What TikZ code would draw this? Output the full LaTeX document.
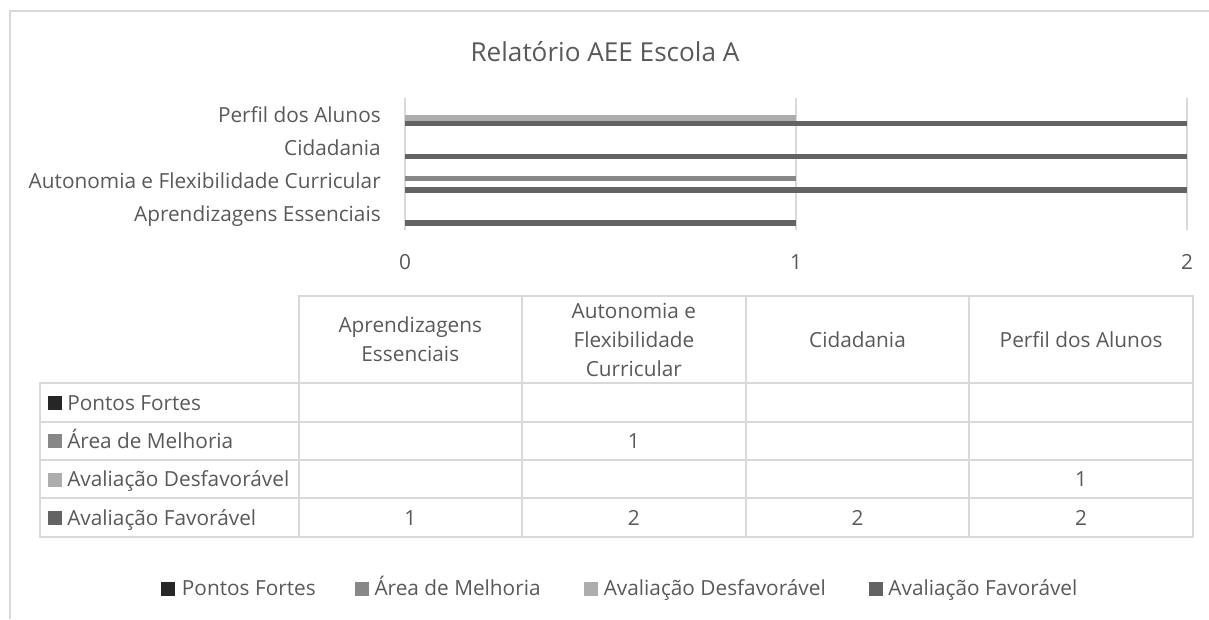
\documentclass[tikz,border=0pt]{standalone}
\usepackage{fontspec}
\setmainfont{Open Sans}
\definecolor{txt}{HTML}{595959}
\definecolor{gridc}{HTML}{D9D9D9}
\definecolor{cPF}{HTML}{262626}
\definecolor{cAM}{HTML}{878787}
\definecolor{cAD}{HTML}{ADADAD}
\definecolor{cAF}{HTML}{636363}
\tikzset{
  lbl/.style={text=txt,font=\fontsize{15.6}{21.75}\selectfont,inner sep=0pt},
  ttl/.style={text=txt,font=\fontsize{19.6}{24}\selectfont,inner sep=0pt},
  gridln/.style={draw=gridc,line width=1.1pt},
  frameln/.style={draw=gridc,line width=1.1pt},
  tabln/.style={draw=gridc,line width=1.5pt},
  sq/.style={minimum size=10.5pt,inner sep=0pt,outer sep=0pt},
}
\begin{document}
\begin{tikzpicture}[x=0.75pt,y=-0.75pt]
\useasboundingbox (0,0) rectangle (1209,619);
% chart frame
\coordinate (fbl) at (10,619);
\coordinate (ftl) at (10,11);
\coordinate (ftr) at (1209,11);
\draw[frameln] (fbl) -- (ftl) -- (ftr);
% title
\node[ttl,anchor=base] (title) at (605,61.3) {Relatório AEE Escola A};
% gridlines
\foreach \v in {0,1,2} {
  \draw[gridln] ({405+391*\v},98) -- ({405+391*\v},230);
  \node[lbl,anchor=base] (tick\v) at ({405+391*\v},269.5) {\v};
}
% bars: band k, slot s
\newcommand{\hbarr}[4]{%
  \fill[#4] (405,{103.7+33.1*#1+5.65*#2}) rectangle ({405+391*#3},{103.7+33.1*#1+5.65*(#2+1)});}
\hbarr{0}{2}{1}{cAD}
\hbarr{0}{3}{2}{cAF}
\hbarr{1}{3}{2}{cAF}
\hbarr{2}{1}{1}{cAM}
\hbarr{2}{3}{2}{cAF}
\hbarr{3}{3}{1}{cAF}
% category labels
\node[lbl,anchor=base east] (c0) at (381,{114.55+7.8}) {Perfil dos Alunos};
\node[lbl,anchor=base east] (c1) at (381,{147.65+7.8}) {Cidadania};
\node[lbl,anchor=base east] (c2) at (381,{180.75+7.8}) {Autonomia e Flexibilidade Curricular};
\node[lbl,anchor=base east] (c3) at (381,{213.85+7.8}) {Aprendizagens Essenciais};
% data table
\draw[tabln] (298.5,296) rectangle (1193,383.3);
\draw[tabln] (40,383.3) rectangle (1193,536.7);
\foreach \yy in {421.7,460,498.3} \draw[tabln] (40,\yy) -- (1193,\yy);
\foreach \xx in {298.5,522.1,745.7,969.3} \draw[tabln] (\xx,296) -- (\xx,536.7);
% header texts
\node[lbl,align=center] (h1) at (410.3,339.5) {Aprendizagens\\Essenciais};
\node[lbl,align=center] (h2) at (633.9,339.5) {Autonomia e\\Flexibilidade\\Curricular};
\node[lbl,align=center] (h3) at (857.5,339.5) {Cidadania};
\node[lbl,align=center] (h4) at (1081.1,339.5) {Perfil dos Alunos};
% row headers
\node[sq,fill=cPF] (r1s) at (54.8,403) {};
\node[lbl,anchor=base west] (r1) at (67,410) {Pontos Fortes};
\node[sq,fill=cAM] (r2s) at (54.8,441.3) {};
\node[lbl,anchor=base west] (r2) at (67,448.3) {Área de Melhoria};
\node[sq,fill=cAD] (r3s) at (54.8,479.7) {};
\node[lbl,anchor=base west] (r3) at (67,486.7) {Avaliação Desfavorável};
\node[sq,fill=cAF] (r4s) at (54.8,518) {};
\node[lbl,anchor=base west] (r4) at (67,525) {Avaliação Favorável};
% values
\node[lbl,anchor=base] (v14) at (410.3,525) {1};
\node[lbl,anchor=base] (v22) at (633.9,448.3) {1};
\node[lbl,anchor=base] (v24) at (633.9,525) {2};
\node[lbl,anchor=base] (v34) at (857.5,525) {2};
\node[lbl,anchor=base] (v43) at (1081.1,486.7) {1};
\node[lbl,anchor=base] (v44) at (1081.1,525) {2};
% legend
\node[sq,fill=cPF] (l1s) at (168,588.7) {};
\node[lbl,anchor=base west] (l1) at (181.7,595.7) {Pontos Fortes};
\node[sq,fill=cAM] (l2s) at (362,588.7) {};
\node[lbl,anchor=base west] (l2) at (374.3,595.7) {Área de Melhoria};
\node[sq,fill=cAD] (l3s) at (591.4,588.7) {};
\node[lbl,anchor=base west] (l3) at (603.5,595.7) {Avaliação Desfavorável};
\node[sq,fill=cAF] (l4s) at (876.1,588.7) {};
\node[lbl,anchor=base west] (l4) at (888.2,595.7) {Avaliação Favorável};
\end{tikzpicture}
\end{document}
